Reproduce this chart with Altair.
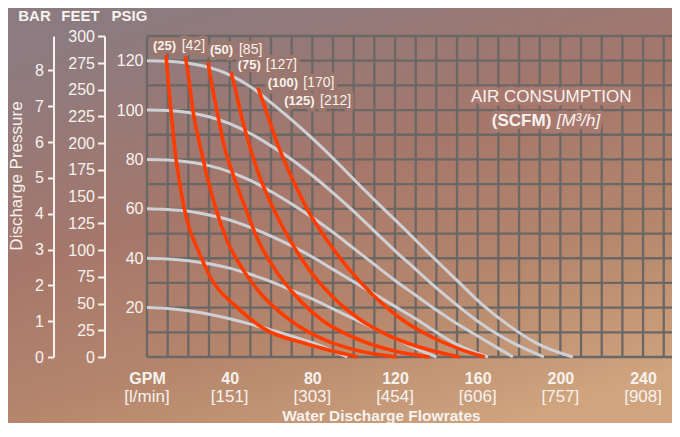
import altair as alt
import pandas as pd

# ---------------- axis values / labels ----------------
gpm_ticks = [0, 40, 80, 120, 160, 200, 240]
gpm_names = ["GPM", "40", "80", "120", "160", "200", "240"]
lpm_names = ["[l/min]", "[151]", "[303]", "[454]", "[606]", "[757]", "[908]"]
psi_ticks = [20, 40, 60, 80, 100, 120]
feet_ticks = [0, 25, 50, 75, 100, 125, 150, 175, 200, 225, 250, 275, 300]
bar_ticks = [0, 1, 2, 3, 4, 5, 6, 7, 8]
grid_gpm = [0, 10, 20, 30, 40, 50, 60, 70, 80, 90, 100, 110, 120, 130, 140, 150,
            160, 170, 180, 190, 200, 210, 220, 230, 240, 250]
grid_psi = [0, 10, 20, 30, 40, 50, 60, 70, 80, 90, 100, 110, 120, 130]

# ---------------- air pressure lines (grey) ----------------
p120_gpm = [0, 10, 20, 30, 40, 50, 60, 70, 80, 90, 100, 112, 125, 137, 150, 162.5, 175.5, 188.6, 206]
p120_psi = [120, 119.8, 119, 117.3, 114.3, 109.5, 103, 96, 88.5, 80.5, 72, 62, 51.5, 41.5, 31, 21, 12.5, 5.5, 0]
p100_gpm = [0, 10, 20, 30, 40, 50, 60, 70, 80, 90, 100, 110, 120, 130, 140, 150, 160, 170, 180, 192]
p100_psi = [100, 99.8, 99, 97.3, 94.5, 90.5, 85.5, 80, 73.5, 66.5, 59, 51, 43, 35.5, 28, 21, 14.5, 9, 4.5, 0]
p80_gpm = [0, 10, 20, 30, 40, 50, 60, 70, 80, 90, 100, 110, 120, 130, 140, 150, 160, 170, 177]
p80_psi = [80, 79.8, 79, 77.5, 75, 71.5, 67, 62, 56.5, 50.5, 44, 37.5, 31, 25, 19, 13.5, 8.5, 3.5, 0]
p60_gpm = [0, 10, 20, 30, 40, 50, 60, 70, 80, 90, 100, 110, 120, 130, 140, 150, 160, 165]
p60_psi = [60, 59.7, 59, 57.5, 55.5, 52.5, 49, 45, 40.5, 35.5, 30.5, 25.5, 20.5, 15.5, 10, 5, 1.5, 0]
p40_gpm = [0, 10, 20, 30, 40, 50, 60, 70, 80, 90, 100, 110, 120, 130, 140]
p40_psi = [40, 39.7, 39, 37.8, 36, 33.5, 30.5, 27, 23.5, 19.5, 15.5, 11.5, 7.5, 3.5, 0]
p20_gpm = [0, 10, 20, 30, 40, 50, 60, 70, 80, 90, 97]
p20_psi = [20, 19.6, 18.7, 17.3, 15.5, 13.3, 11, 8.5, 5.8, 2.5, 0]

# ---------------- air consumption lines (red) ----------------
c25_gpm = [9.2, 10.2, 11.6, 13.5, 16.0, 19.3, 24.7, 31.4, 43.5, 56.1, 77.4, 91.9, 102.0]
c25_psi = [122.3, 112.2, 100.0, 83.8, 69.6, 55.5, 43.3, 31.2, 20.2, 11.7, 5.3, 2.0, 0]
c50_gpm = [18.4, 20.3, 22.2, 25.6, 29.5, 33.8, 38.6, 45.9, 55.6, 69.1, 86.0, 102.9, 120.9]
c50_psi = [122.3, 112.2, 100.0, 85.9, 71.7, 58.7, 47.4, 36.1, 25.1, 15.0, 6.9, 2.4, 0]
c75_gpm = [29.5, 31.4, 33.8, 37.2, 42.6, 47.9, 53.7, 61.4, 71.6, 84.6, 100.6, 119.9, 136.8]
c75_psi = [119.5, 110.2, 100.0, 85.9, 71.7, 59.6, 47.4, 36.1, 25.1, 15.0, 7.7, 2.4, 0]
c100_gpm = [40.6, 42.6, 45.0, 48.8, 55.1, 61.4, 69.1, 77.8, 88.5, 102.0, 118.5, 136.8, 151.4]
c100_psi = [115.4, 109.0, 100.0, 87.9, 71.7, 59.6, 47.4, 36.1, 25.5, 15.8, 8.1, 2.8, 0]
c125_gpm = [53.7, 57.5, 63.3, 70.6, 78.3, 87.0, 97.2, 108.8, 122.3, 136.8, 151.4, 163.4]
c125_psi = [109.0, 100.0, 85.9, 71.7, 58.7, 47.4, 36.1, 25.5, 15.8, 8.5, 3.2, 0]

# ---------------- curve labels ----------------
scfm_text = ["(25)", "(50)", "(75)", "(100)", "(125)"]
m3h_text = ["[42]", "[85]", "[127]", "[170]", "[212]"]
scfm_gpm = [2.9, 30.5, 43.9, 58.4, 66.4]
m3h_gpm = [16.8, 44.5, 57.5, 75.6, 83.7]
label_psi = [126.0, 124.3, 118.1, 110.9, 103.7]

legend_line1 = "AIR CONSUMPTION"
legend_bold = "(SCFM)"
legend_italic = "[M³/h]"
legend_gpm = 195.6
legend_psi = [105.4, 95.7]

FEET_PER_PSI = 2.31
PSI_PER_BAR = 14.5038

# ---------------- styling ----------------
W, H = 525, 321
X_MAX, Y_MAX = 254, 130
PAD_L, PAD_T, PAD_B = 139, 28, 66
FONT = "Liberation Sans"
WHITE = "#f6f2ee"
GRID = "#6b6764"
RED = "#ff3c00"
GREY = "#cfd0d5"

xs = alt.Scale(domain=[0, X_MAX], nice=False, zero=False)
ys = alt.Scale(domain=[0, Y_MAX], nice=False, zero=False)

label_expr = "datum.value == 0 ? 'GPM' : datum.label"
X_AXIS = alt.Axis(
    values=gpm_ticks, labelExpr=label_expr, grid=False, domain=False, ticks=False, tickSize=0,
    labelFont=FONT, labelFontSize=16, labelFontWeight="bold", labelColor=WHITE,
    labelPadding=21, labelBaseline="middle", labelFlush=False,
    title="Water Discharge Flowrates", titleFont=FONT, titleFontSize=15.5, titleFontWeight="bold",
    titleColor=WHITE, titleX=234, titleY=63, titleAlign="center", titleBaseline="alphabetic", zindex=1)
Y_AXIS = alt.Axis(
    orient="left", values=psi_ticks, grid=False, domain=False, ticks=False, tickSize=0,
    labelFont=FONT, labelFontSize=16, labelColor=WHITE, labelPadding=4, labelFlush=False,
    title="PSIG", titleFont=FONT, titleFontSize=15, titleFontWeight="bold", titleColor=WHITE,
    titleAngle=0, titleAlign="center", titleBaseline="middle", titleX=-18, titleY=-21, zindex=1)


def X(field="gpm:Q"):
    return alt.X(field, scale=xs, axis=X_AXIS)


def Y(field="psi:Q"):
    return alt.Y(field, scale=ys, axis=Y_AXIS)


def long_table(items):
    rows = []
    for name, gx, gy in items:
        for i, (a, b) in enumerate(zip(gx, gy)):
            rows.append({"curve": name, "i": i, "gpm": a, "psi": b})
    return pd.DataFrame(rows)


grey_df = long_table([("120", p120_gpm, p120_psi), ("100", p100_gpm, p100_psi),
                      ("80", p80_gpm, p80_psi), ("60", p60_gpm, p60_psi),
                      ("40", p40_gpm, p40_psi), ("20", p20_gpm, p20_psi)])
red_df = long_table([("25", c25_gpm, c25_psi), ("50", c50_gpm, c50_psi),
                     ("75", c75_gpm, c75_psi), ("100", c100_gpm, c100_psi),
                     ("125", c125_gpm, c125_psi)])

bold_df = pd.DataFrame({"gpm": scfm_gpm, "psi": label_psi, "t": scfm_text})
br_df = pd.DataFrame({"gpm": m3h_gpm, "psi": label_psi, "t": m3h_text})
x_df = pd.DataFrame({"gpm": gpm_ticks, "lpm": lpm_names})
leg1_df = pd.DataFrame({"gpm": [legend_gpm], "psi": [legend_psi[0]], "t": [legend_line1]})
leg2_df = pd.DataFrame({"gpm": [legend_gpm], "psi": [legend_psi[1]], "t": [legend_bold]})
leg3_df = pd.DataFrame({"gpm": [legend_gpm + 2.6], "psi": [legend_psi[1]], "t": [legend_italic]})

bg = alt.Chart(pd.DataFrame({"a": [0]})).mark_rect(
    fill=alt.Gradient(gradient="linear", x1=0.25, y1=0, x2=0.75, y2=1,
                      stops=[alt.GradientStop(color="#8c7b80", offset=0),
                             alt.GradientStop(color="#a5776b", offset=0.4),
                             alt.GradientStop(color="#b5866c", offset=0.7),
                             alt.GradientStop(color="#cfa47e", offset=1)])
).encode(x=alt.value(-PAD_L), x2=alt.value(W), y=alt.value(-PAD_T), y2=alt.value(H + PAD_B))

vgrid = alt.Chart(pd.DataFrame({"gpm": grid_gpm})).mark_rule(color=GRID, strokeWidth=2.3).encode(x=X())
hgrid = alt.Chart(pd.DataFrame({"psi": grid_psi})).mark_rule(color=GRID, strokeWidth=2.3).encode(y=Y())

grey = alt.Chart(grey_df).mark_line(color=GREY, strokeWidth=3, interpolate="monotone").encode(
    x=X(), y=Y(), detail="curve:N", order="i:Q")

red = alt.Chart(red_df).mark_line(color=RED, strokeWidth=3.6, interpolate="monotone").encode(
    x=X(), y=Y(), detail="curve:N", order="i:Q")


def text_layer(df, halo, **kw):
    enc = dict(x=X(), y=Y(), text="t:N")
    h = alt.Chart(df).mark_text(font=FONT, fill=halo, stroke=halo, strokeWidth=7,
                                strokeJoin="round", **kw).encode(**enc)
    t = alt.Chart(df).mark_text(font=FONT, fill=WHITE, **kw).encode(**enc)
    return [h, t]


HALO1 = "#9c776e"
HALO2 = "#a87a70"
labels = (text_layer(bold_df, HALO1, fontSize=13, fontWeight="bold", align="left", baseline="middle")
          + text_layer(br_df, HALO1, fontSize=14, align="left", baseline="middle")
          + text_layer(leg1_df, HALO2, fontSize=17, align="center", baseline="middle")
          + text_layer(leg2_df, HALO2, fontSize=17, fontWeight="bold", align="right", baseline="middle")
          + text_layer(leg3_df, HALO2, fontSize=17, fontStyle="italic", align="left", baseline="middle"))

xlab2 = alt.Chart(x_df).mark_text(font=FONT, fontSize=17, color=WHITE, baseline="middle").encode(
    x=X(), y=alt.value(361), text="lpm:N")

ytitle = alt.Chart(pd.DataFrame({"t": ["Discharge Pressure"]})).mark_text(
    font=FONT, fontSize=17, color=WHITE, angle=270, align="center", baseline="middle").encode(
    x=alt.value(-130.5), y=alt.value(140), text="t:N")

main = alt.layer(bg, vgrid, hgrid, grey, red, *labels, xlab2, ytitle)

feet = alt.Chart(pd.DataFrame({"feet": feet_ticks})).mark_point(opacity=0).encode(
    y=alt.Y("feet:Q", scale=alt.Scale(domain=[0, Y_MAX * FEET_PER_PSI], nice=False, zero=False),
            axis=alt.Axis(orient="left", offset=42.5, values=feet_ticks, grid=False,
                          domainColor=WHITE, domainWidth=2, tickColor=WHITE, tickWidth=2, tickSize=7,
                          labelFont=FONT, labelFontSize=16, labelColor=WHITE, labelPadding=3,
                          labelFlush=False,
                          title="FEET", titleFont=FONT, titleFontSize=15, titleFontWeight="bold",
                          titleColor=WHITE, titleAngle=0, titleAlign="center", titleBaseline="middle",
                          titleX=-24.5, titleY=-21, zindex=1)))

bar = alt.Chart(pd.DataFrame({"bar": bar_ticks})).mark_point(opacity=0).encode(
    y=alt.Y("bar:Q", scale=alt.Scale(domain=[0, Y_MAX / PSI_PER_BAR], nice=False, zero=False),
            axis=alt.Axis(orient="left", offset=93.5, values=bar_ticks, grid=False,
                          domainColor=WHITE, domainWidth=2, tickColor=WHITE, tickWidth=2, tickSize=6,
                          labelFont=FONT, labelFontSize=16, labelColor=WHITE, labelPadding=4,
                          labelFlush=False,
                          title="BAR", titleFont=FONT, titleFontSize=15, titleFontWeight="bold",
                          titleColor=WHITE, titleAngle=0, titleAlign="center", titleBaseline="middle",
                          titleX=-19.5, titleY=-21, zindex=1)))

chart = alt.layer(main, feet, bar).resolve_scale(y="independent").properties(
    width=W, height=H,
    padding={"left": PAD_L, "top": PAD_T, "right": 0, "bottom": PAD_B},
    autosize=alt.AutoSizeParams(type="none"),
    background="#ffffff",
).configure_view(stroke="transparent")

chart.save("out.html", embed_options={"renderer": "svg", "actions": False})
